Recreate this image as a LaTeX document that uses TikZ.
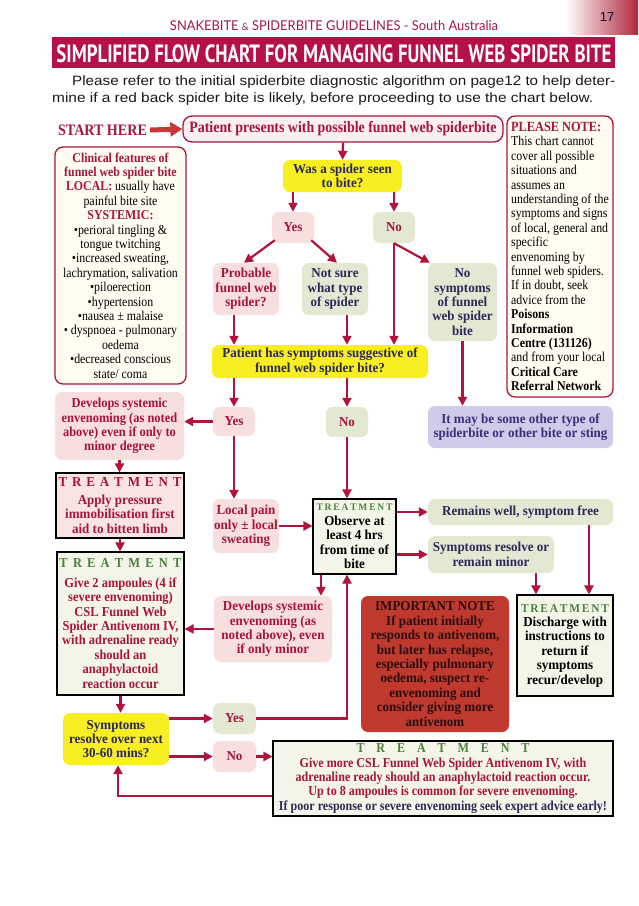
\documentclass[tikz,border=0pt]{standalone}
\usepackage{fontspec}
\usepackage{graphicx}
\usetikzlibrary{arrows.meta,calc}
\newfontfamily\bxf{Liberation Serif}[FakeStretch=0.88]
\newfontfamily\bxm{Liberation Serif}[FakeStretch=0.91]
\newfontfamily\bxw{Liberation Serif}[FakeStretch=0.95]
\newfontfamily\parf{Liberation Sans}
\newfontfamily\ttlf{PT Sans}
\newfontfamily\hdf{Lato}
\definecolor{crim}{HTML}{A8143C}
\definecolor{arrc}{HTML}{B0143C}
\definecolor{pinkf}{HTML}{F6DFDD}
\definecolor{greenf}{HTML}{E3E8D2}
\definecolor{yell}{HTML}{F7EF22}
\definecolor{purpf}{HTML}{D1CAE9}
\definecolor{redf}{HTML}{C0392F}
\definecolor{creamf}{HTML}{FFFDF2}
\definecolor{patf}{HTML}{FBEFF1}
\definecolor{troneF}{HTML}{F8E5E2}
\definecolor{trf}{HTML}{F3F5E8}
\definecolor{navy}{HTML}{2C2858}
\definecolor{purpt}{HTML}{3A2F78}
\definecolor{grn}{HTML}{4D7F3E}
\definecolor{banner}{HTML}{B51048}
\definecolor{hdcol}{HTML}{A3174A}
\definecolor{tabred}{HTML}{B0283C}
\definecolor{impt}{HTML}{2A0E0E}
\definecolor{startc}{HTML}{C8383A}
\newcommand\trw[1]{\makebox[#1][s]{T\hfil R\hfil E\hfil A\hfil T\hfil M\hfil E\hfil N\hfil T}}
\begin{document}
\begin{tikzpicture}[x=1pt,y=-1pt,
  box/.style={inner sep=0pt, align=center, font=\bxw\bfseries\fontsize{13.7}{14.4}\selectfont, rounded corners=7pt},
  pbox/.style={box, fill=pinkf, text=crim},
  gbox/.style={box, fill=greenf, text=navy},
  ybox/.style={box, fill=yell, text=navy},
  tbox/.style={box, rounded corners=0pt, draw=black, line width=1.1pt, fill=trf},
  lbox/.style={box, draw=crim, line width=1.3pt, fill=creamf, rounded corners=8pt, font=\bxf\fontsize{13.5}{14.4}\selectfont, text=black},
  arr/.style={draw=arrc, line width=2.2pt, -{Triangle[length=9pt,width=9pt]}},
  startarr/.style={draw=startc, line width=5pt, -{Triangle[length=12pt,width=14pt]}}
]
\useasboundingbox (0,0) rectangle (638,906);
\fill[white] (0,0) rectangle (638,906);

% header
\shade[left color=white, right color=tabred] (565,0) rectangle (638,34);
\node[font=\parf\fontsize{13}{13}\selectfont, text=black!75!blue!80!black] (pnum) at (607,17) {17};
\node[anchor=base, inner sep=0, text=hdcol] (hdr) at (334,30) {\resizebox{328pt}{\height}{\hdf\fontsize{13.5}{13.5}\selectfont SNAKEBITE {\fontsize{10}{10}\selectfont\&} SPIDERBITE GUIDELINES - South Australia}};
\fill[banner] (52,37) rectangle (615,68);
\node[anchor=base, inner sep=0, text=white] (title) at (334,62) {\resizebox{555pt}{\height}{\ttlf\bfseries\fontsize{25}{25}\selectfont SIMPLIFIED FLOW CHART FOR MANAGING FUNNEL WEB SPIDER BITE}};
\node[anchor=base west, inner sep=0, font=\parf\fontsize{13.6}{15}\selectfont, text=black!90] (p1) at (72,85) {\resizebox{543pt}{\height}{Please refer to the initial spiderbite diagnostic algorithm on page12 to help deter-}};
\node[anchor=base west, inner sep=0, font=\parf\fontsize{13.6}{15}\selectfont, text=black!90] (p2) at (52,102) {\resizebox{541pt}{\height}{mine if a red back spider bite is likely, before proceeding to use the chart below.}};

% top
\node[inner sep=0, font=\bxf\bfseries\fontsize{16}{16}\selectfont, text=crim] (start) at (102.5,130) {START HERE};
\node[box, draw=crim, line width=1.3pt, fill=patf, text=crim, rounded corners=9pt, font=\bxf\bfseries\fontsize{15.8}{16}\selectfont, minimum width=320, minimum height=26] (patient) at (343,129) {Patient presents with possible funnel web spiderbite};
\node[lbox, align=left, minimum width=106, minimum height=281] (note) at (560,256.5) {%
{\bfseries\color{crim}\fontsize{14}{14.4}\selectfont PLEASE NOTE:}\\
This chart cannot\\
cover all possible\\
situations and\\
assumes an\\
understanding of the\\
symptoms and signs\\
of local, general and\\
specific\\
envenoming by\\
funnel web spiders.\\
If in doubt, seek\\
advice from the\\
\textbf{Poisons}\\
\textbf{Information}\\
\textbf{Centre (131126)}\\
and from your local\\
\textbf{Critical Care}\\
\textbf{Referral Network}};
\node[lbox, minimum width=131, minimum height=237] (clin) at (120.5,265.5) {%
{\bfseries\color{crim}Clinical features of}\\
{\bfseries\color{crim}funnel web spider bite}\\
{\bfseries\color{crim}LOCAL:} usually have\\
painful bite site\\
{\bfseries\color{crim}SYSTEMIC:}\\
•perioral tingling \&\\
tongue twitching\\
•increased sweating,\\
lachrymation, salivation\\
•piloerection\\
•hypertension\\
•nausea ± malaise\\
• dyspnoea - pulmonary\\
oedema\\
•decreased conscious\\
state/ coma};

\node[ybox, minimum width=119, minimum height=32] (spider) at (342.5,176) {Was a spider seen\\to bite?};
\node[pbox, text=crim, minimum width=42, minimum height=31] (yes1) at (293,227.5) {Yes};
\node[gbox, text=crim, minimum width=42, minimum height=31] (no1) at (394,227.5) {No};
\node[pbox, minimum width=66, minimum height=52] (prob) at (246,289) {Probable\\funnel web\\spider?};
\node[gbox, minimum width=66, minimum height=52] (notsure) at (335,289) {Not sure\\what type\\of spider};
\node[gbox, minimum width=69, minimum height=78] (nosym) at (462.5,302) {No\\symptoms\\of funnel\\web spider\\bite};
\node[ybox, minimum width=216, minimum height=33] (hassym) at (320,361.5) {Patient has symptoms suggestive of\\funnel web spider bite?};
\node[pbox, minimum width=42, minimum height=29] (yes2) at (234,421.5) {Yes};
\node[gbox, text=crim, minimum width=42, minimum height=30] (no2) at (347,422) {No};
\node[box, fill=purpf, text=purpt, minimum width=185, minimum height=42] (other) at (520.5,427) {It may be some other type of\\spiderbite or other bite or sting};
\node[pbox, font=\bxm\bfseries\fontsize{13.7}{14.4}\selectfont, minimum width=129, minimum height=68] (dev1) at (119.5,426) {Develops systemic\\envenoming (as noted\\above) even if only to\\minor degree};
\node[tbox, fill=troneF, text=crim, minimum width=128, minimum height=65] (tr1) at (120,505.5) {\trw{123pt}\\[3pt]Apply pressure\\immobilisation first\\aid to bitten limb};
\node[tbox, text=crim, font=\bxm\bfseries\fontsize{13.7}{14.4}\selectfont, minimum width=127, minimum height=143] (tr2) at (120.5,623.5) {{\color{grn}\trw{122pt}}\\[5pt]Give 2 ampoules (4 if\\severe envenoming)\\CSL Funnel Web\\Spider Antivenom IV,\\with adrenaline ready\\should an\\anaphylactoid\\reaction occur};
\node[pbox, minimum width=66, minimum height=54] (local) at (246,526) {Local pain\\only ± local\\sweating};
\node[tbox, text=black, minimum width=83, minimum height=75] (obs) at (354.5,536.5) {{\color{grn}\fontsize{10}{11}\selectfont\trw{76pt}}\\Observe at\\least 4 hrs\\from time of\\bite};
\node[gbox, minimum width=185, minimum height=26] (well) at (520.5,512) {Remains well, symptom free};
\node[gbox, minimum width=126, minimum height=37] (resolve) at (491,554.5) {Symptoms resolve or\\remain minor};
\node[pbox, minimum width=118, minimum height=66] (dev2) at (273,629) {Develops systemic\\envenoming (as\\noted above), even\\if only minor};
\node[tbox, text=black, minimum width=96, minimum height=101] (dis) at (565,645.5) {{\color{grn}\fontsize{12}{13}\selectfont\trw{88pt}}\\Discharge with\\instructions to\\return if\\symptoms\\recur/develop};
\node[box, fill=redf, text=impt, minimum width=148, minimum height=136] (imp) at (435,664) {IMPORTANT NOTE\\If patient initially\\responds to antivenom,\\but later has relapse,\\especially pulmonary\\oedema, suspect re-\\envenoming and\\consider giving more\\antivenom};
\node[ybox, minimum width=106, minimum height=52] (sym30) at (116,739) {Symptoms\\resolve over next\\30-60 mins?};
\node[gbox, text=crim, minimum width=43, minimum height=31] (yes3) at (234.5,718.5) {Yes};
\node[pbox, minimum width=43, minimum height=31] (no3) at (234.5,756.5) {No};
\node[tbox, text=crim, font=\bxf\bfseries\fontsize{13.7}{14.4}\selectfont, minimum width=340, minimum height=75] (tr3) at (443,778.5) {{\color{grn}\trw{173pt}}\\Give more CSL Funnel Web Spider Antivenom IV, with\\adrenaline ready should an anaphylactoid reaction occur.\\Up to 8 ampoules is common for severe envenoming.\\{\color{navy}If poor response or severe envenoming seek expert advice early!}};

% helper coordinates
\coordinate (cx234) at (234,0);
\coordinate (cx347) at (347,0);
\coordinate (cx321) at (321,0);
\coordinate (cx536) at (536,0);
\coordinate (cx589) at (589,0);
\coordinate (cx118) at (118,0);
\coordinate (cy796) at (0,796);

% connectors
\draw[startarr] ($(start.east)+(3,0)$) -- (patient.west);
\draw[arr] (patient.south) -- (spider.north);
\draw[arr] (spider.south -| yes1.north) -- (yes1.north);
\draw[arr] (spider.south -| no1.north) -- (no1.north);
\draw[arr] ($(yes1.south west)+(3,-3)$) -- ($(prob.north)+(-2,0)$);
\draw[arr] ($(yes1.south east)+(-3,-3)$) -- ($(notsure.north)+(2,0)$);
\draw[arr] (no1.south) -- ($(nosym.north west)+(2,0)$);
\draw[arr] (no1.south) -- (no1.south |- hassym.north);
\draw[arr] (prob.south -| cx234) -- (cx234 |- hassym.north);
\draw[arr] (notsure.south -| cx347) -- (cx347 |- hassym.north);
\draw[arr] (hassym.south -| yes2.north) -- (yes2.north);
\draw[arr] (hassym.south -| no2.north) -- (no2.north);
\draw[arr] (nosym.south) -- (nosym.south |- other.north);
\draw[arr] (yes2.west) -- (yes2.west -| dev1.east);
\draw[arr] (yes2.south) -- (yes2.south |- local.north);
\draw[arr] (dev1.south) -- (dev1.south |- tr1.north);
\draw[arr] (tr1.south) -- (tr1.south |- tr2.north);
\draw[arr] (tr2.south) -- (tr2.south |- sym30.north);
\draw[arr] (local.east) -- (local.east -| obs.west);
\draw[arr] (no2.south) -- (no2.south |- obs.north);
\draw[arr] (obs.east |- well.west) -- (well.west);
\draw[arr] (obs.east |- resolve.west) -- (resolve.west);
\draw[arr] (obs.south -| cx321) -- (cx321 |- dev2.north);
\draw[arr] (dev2.west) -- (dev2.west -| tr2.east);
\draw[arr] (resolve.south -| cx536) -- (cx536 |- dis.north);
\draw[arr] (well.south -| cx589) -- (cx589 |- dis.north);
\draw[arr] (sym30.east |- yes3.west) -- (yes3.west);
\draw[arr] (sym30.east |- no3.west) -- (no3.west);
\draw[arr] (no3.east) -- (no3.east -| tr3.west);
\draw[arr] (yes3.east) -| (obs.south -| cx347);
\draw[arr] (tr3.west |- cy796) -| (cx118 |- sym30.south);
\end{tikzpicture}
\end{document}
